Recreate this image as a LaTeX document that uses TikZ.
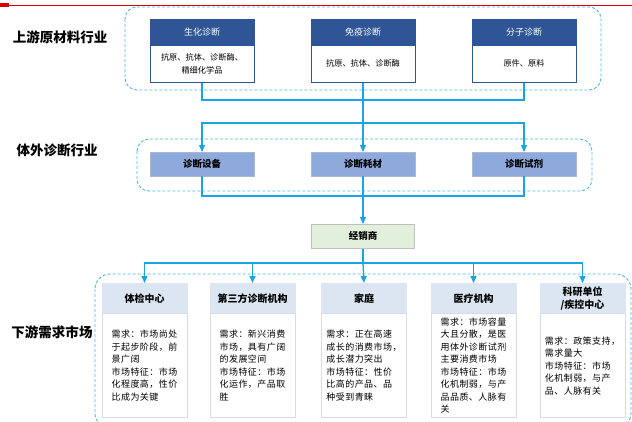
\documentclass[tikz,border=0pt]{standalone}
\usepackage{fontspec}
\setmainfont{Noto Sans CJK SC}
\newfontfamily\spacedcjk[LetterSpace=5]{Noto Sans CJK SC}
\usetikzlibrary{arrows.meta}
\definecolor{dblue}{HTML}{2F5597}
\definecolor{mblue}{HTML}{8EA9DB}
\definecolor{lblue}{HTML}{DCE6F2}
\definecolor{cyanl}{HTML}{1AA5E0}
\definecolor{dashc}{HTML}{4DB6DE}
\definecolor{lgreen}{HTML}{E2EFDA}
\definecolor{bodyline}{HTML}{D5DCE6}
\begin{document}
\begin{tikzpicture}[x=1pt,y=-1pt,
  dashbox/.style={draw=dashc, dash pattern=on 3pt off 2pt, line width=0.9pt, rounded corners=12pt},
  conn/.style={draw=cyanl, line width=1.3pt},
  arr/.style={conn, -{Triangle[width=6pt,length=7pt]}},
  sidelabel/.style={font=\bfseries\fontsize{13.5}{15}\selectfont, inner sep=0pt},
  tophead/.style={fill=dblue, draw=dblue, line width=0.9pt, text=white, minimum width=104pt, minimum height=25pt, inner sep=0pt, font=\fontsize{9}{11}\selectfont},
  topbody/.style={fill=white, draw=dblue, line width=0.9pt, minimum width=104pt, minimum height=37pt, inner sep=0pt, align=center, font=\fontsize{8.2}{13}\selectfont},
  midbox/.style={fill=mblue, draw=mblue!80!black!60, line width=0.3pt, minimum width=104pt, minimum height=24pt, inner sep=0pt, font=\bfseries\fontsize{9.5}{11}\selectfont},
  dealer/.style={fill=lgreen, draw=gray!50, line width=0.5pt, minimum width=103pt, minimum height=24pt, inner sep=0pt, font=\bfseries\fontsize{9.5}{11}\selectfont},
  lowhead/.style={fill=lblue, draw=lblue, minimum width=85pt, minimum height=30pt, inner sep=0pt, align=center, font=\bfseries\fontsize{10}{13}\selectfont},
  lowbody/.style={fill=white, draw=bodyline, line width=0.6pt, minimum width=85pt, minimum height=104pt, inner sep=0pt, align=left, font=\spacedcjk\fontsize{9}{12.5}\selectfont}
]
\useasboundingbox (0,0) rectangle (632,421);
\fill[white] (0,0) rectangle (632,421);
% top red rule
\draw[red!85!black, line width=0.9pt] (0,5) -- (632,5);
\fill[red!85!black] (0,3.2) rectangle (9,6.8);

% dashed groups
\draw[dashbox] (125,7) rectangle (601,90);
\draw[dashbox] (137,139) rectangle (592,191);
\draw[dashbox, rounded corners=15pt] (95,274) rectangle (631,428);

% side labels
\node[sidelabel] (L1) at (60,37) {上游原材料行业};
\node[sidelabel] (L2) at (57,150) {体外诊断行业};
\node[sidelabel] (L3) at (52,332) {下游需求市场};

% top row
\node[tophead, anchor=north] (h1) at (202,19) {生化诊断};
\node[topbody, anchor=north] (b1) at (h1.south) {抗原、抗体、诊断酶、\\精细化学品};
\node[tophead, anchor=north] (h2) at (363,19) {免疫诊断};
\node[topbody, anchor=north] (b2) at (h2.south) {抗原、抗体、诊断酶};
\node[tophead, anchor=north] (h3) at (524,19) {分子诊断};
\node[topbody, anchor=north] (b3) at (h3.south) {原件、原料};

% middle row
\node[midbox, anchor=north] (m1) at (202,152) {诊断设备};
\node[midbox, anchor=north] (m2) at (363,152) {诊断耗材};
\node[midbox, anchor=north] (m3) at (524,152) {诊断试剂};

% dealer
\node[dealer, anchor=north] (d) at (363,224) {经销商};

% bottom row
\node[lowhead, anchor=north] (q1) at (144.5,283) {体检中心};
\node[lowbody, anchor=north] (p1) at (q1.south) {需求：市场尚处\\于起步阶段，前\\景广阔\\市场特征：市场\\化程度高，性价\\比成为关键};
\node[lowhead, anchor=north] (q2) at (252.5,283) {第三方诊断机构};
\node[lowbody, anchor=north] (p2) at (q2.south) {需求：新兴消费\\市场，具有广阔\\的发展空间\\市场特征：市场\\化运作，产品取\\胜};
\node[lowhead, anchor=north] (q3) at (364,283) {家庭};
\node[lowbody, anchor=north] (p3) at (q3.south) {需求：正在高速\\成长的消费市场，\\成长潜力突出\\市场特征：性价\\比高的产品、品\\种受到青睐};
\node[lowhead, anchor=north] (q4) at (473.5,283) {医疗机构};
\node[lowbody, anchor=north] (p4) at (q4.south) {需求：市场容量\\大且分散，是医\\用体外诊断试剂\\主要消费市场\\市场特征：市场\\化机制弱，与产\\品品质、人脉有\\关};
\node[lowhead, anchor=north] (q5) at (582.5,283) {科研单位\\/疾控中心};
\node[lowbody, anchor=north] (p5) at (q5.south) {需求：政策支持，\\需求量大\\市场特征：市场\\化机制弱，与产\\品、人脉有关};

% connectors
\coordinate (j1) at (363,100);
\coordinate (j2) at (363,123);
\coordinate (j3) at (363,196);
\coordinate (j4) at (363,263);
\draw[conn] (b1.south) -- (b1.south |- j1) -- (b3.south |- j1) -- (b3.south);
\draw[arr] (b2.south) -- (m2.north);
\draw[arr] (j2) -| (m1.north);
\draw[arr] (j2) -| (m3.north);
\draw[conn] (m1.south) -- (m1.south |- j3) -- (m3.south |- j3) -- (m3.south);
\draw[arr] (m2.south) -- (d.north);
\draw[conn] (d.south) -- (j4);
\draw[arr] (j4) -| (q1.north);
\draw[arr] (j4) -| (q2.north);
\draw[arr] (j4) -- (q3.north);
\draw[arr] (j4) -| (q4.north);
\draw[arr] (j4) -| (q5.north);
\end{tikzpicture}
\end{document}
